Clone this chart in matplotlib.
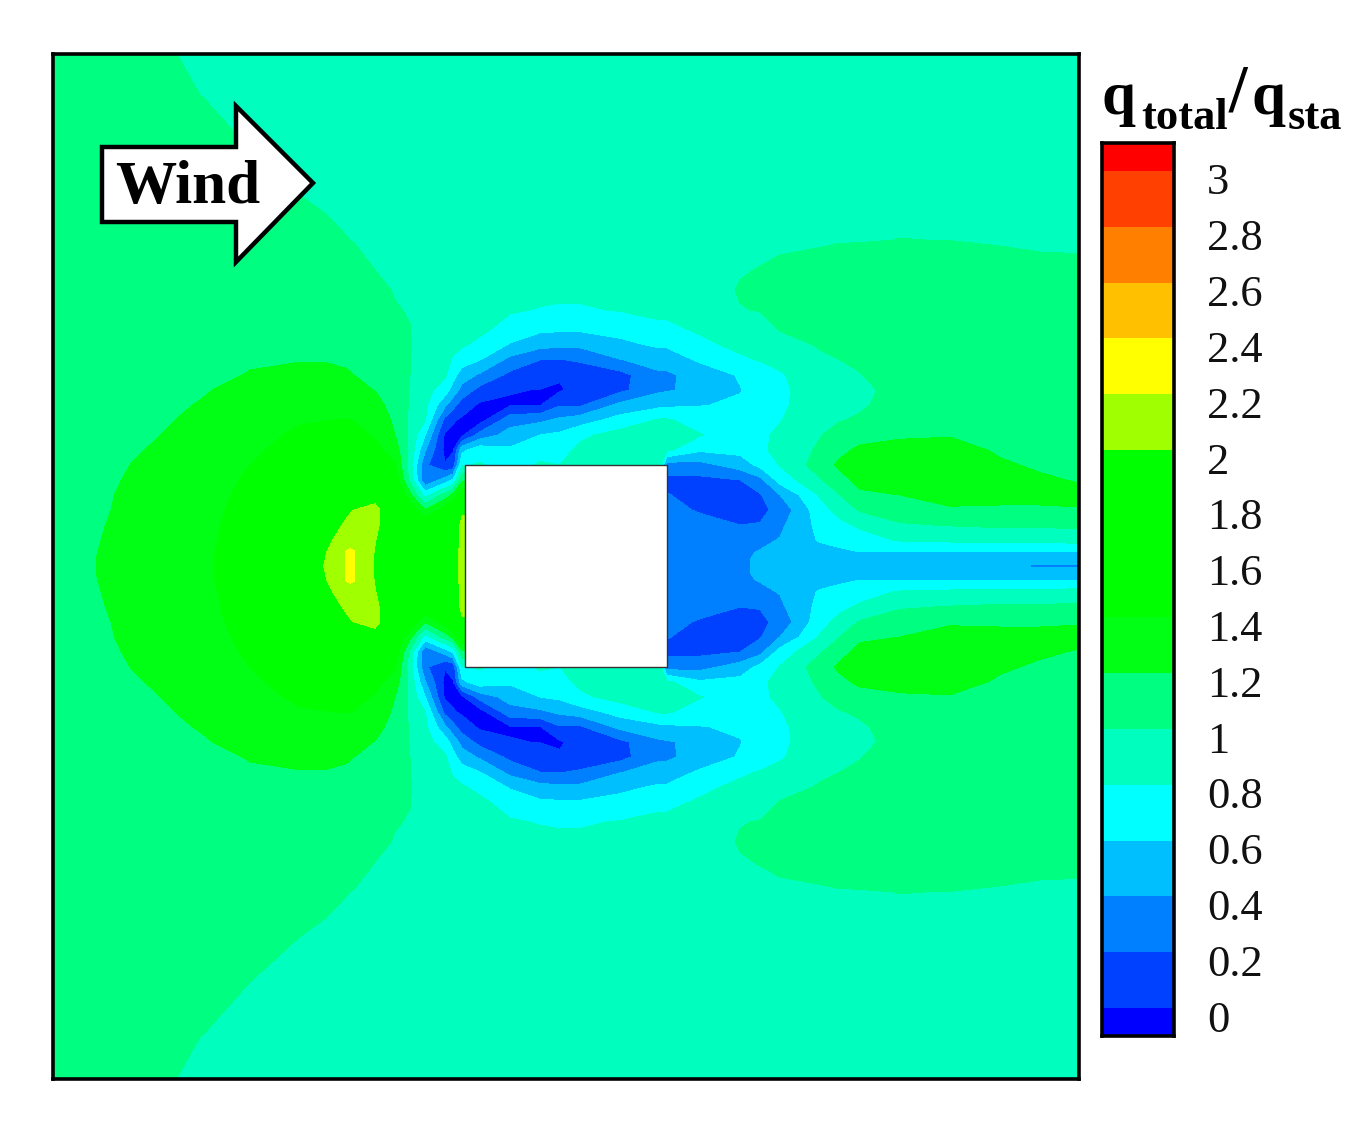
import numpy as np
import matplotlib
matplotlib.use('Agg')
import matplotlib.pyplot as plt
from matplotlib.patches import Polygon, Rectangle

# pressure ratio q_total/q_sta, upper half only (flow is symmetric)
# one list per column, rows follow row_y
row_y = [53, 100, 150, 200, 240, 270, 290, 310, 330, 345, 360, 375, 390, 405, 420, 435, 450, 465, 480, 495, 510, 525, 540, 552, 560, 566]
col_x = [53, 100, 150, 200, 250, 300, 325, 346, 350, 354, 375, 395, 410, 425, 445, 453, 462, 480, 510, 540, 560, 580, 620, 660, 667, 700, 740, 760, 780, 820, 840, 860, 900, 950, 1000, 1040, 1079]

q_x53 = [1.10, 1.11, 1.11, 1.12, 1.12, 1.12, 1.13, 1.13, 1.13, 1.14, 1.14, 1.14, 1.14, 1.14, 1.14, 1.15, 1.15, 1.15, 1.15, 1.15, 1.15, 1.15, 1.15, 1.15, 1.15, 1.15]
q_x100 = [1.08, 1.09, 1.09, 1.10, 1.11, 1.12, 1.12, 1.13, 1.13, 1.14, 1.14, 1.14, 1.15, 1.15, 1.16, 1.16, 1.16, 1.17, 1.17, 1.18, 1.18, 1.19, 1.198, 1.203, 1.204, 1.204]
q_x150 = [1.05, 1.06, 1.07, 1.08, 1.09, 1.10, 1.10, 1.11, 1.12, 1.13, 1.14, 1.15, 1.16, 1.17, 1.18, 1.19, 1.205, 1.22, 1.24, 1.25, 1.27, 1.28, 1.29, 1.30, 1.30, 1.30]
q_x200 = [.955, 1.005, 1.04, 1.07, 1.09, 1.10, 1.11, 1.12, 1.13, 1.14, 1.15, 1.17, 1.19, 1.205, 1.22, 1.24, 1.26, 1.27, 1.29, 1.30, 1.32, 1.33, 1.34, 1.35, 1.35, 1.35]
q_x250 = [.93, .96, 1.00, 1.05, 1.08, 1.10, 1.11, 1.13, 1.15, 1.17, 1.19, 1.205, 1.23, 1.26, 1.30, 1.34, 1.37, 1.40, 1.43, 1.46, 1.48, 1.50, 1.51, 1.52, 1.52, 1.52]
q_x300 = [.91, .93, .95, 1.005, 1.05, 1.08, 1.10, 1.12, 1.15, 1.17, 1.195, 1.23, 1.27, 1.31, 1.385, 1.43, 1.47, 1.52, 1.57, 1.62, 1.67, 1.72, 1.77, 1.80, 1.82, 1.83]
q_x325 = [.90, .92, .94, .985, 1.03, 1.07, 1.09, 1.12, 1.15, 1.17, 1.195, 1.23, 1.27, 1.33, 1.395, 1.45, 1.50, 1.56, 1.63, 1.72, 1.80, 1.87, 1.93, 1.98, 2.0, 2.01]
q_x346 = [.90, .91, .93, .964, 1.005, 1.053, 1.08, 1.11, 1.15, 1.17, 1.187, 1.21, 1.26, 1.33, 1.405, 1.47, 1.54, 1.62, 1.71, 1.83, 1.95, 2.03, 2.12, 2.205, 2.205, 2.205]
q_x350 = [.90, .91, .93, .96, 1.0, 1.05, 1.08, 1.11, 1.15, 1.17, 1.185, 1.205, 1.26, 1.33, 1.405, 1.47, 1.55, 1.63, 1.73, 1.85, 1.98, 2.06, 2.15, 2.22, 2.24, 2.25]
q_x354 = [.90, .91, .93, .96, .996, 1.04, 1.07, 1.10, 1.14, 1.16, 1.18, 1.20, 1.25, 1.31, 1.39, 1.46, 1.54, 1.62, 1.73, 1.86, 2.0, 2.06, 2.15, 2.205, 2.205, 2.205]
q_x375 = [.89, .90, .92, .95, .975, 1.0, 1.04, 1.08, 1.12, 1.14, 1.16, 1.18, 1.195, 1.25, 1.31, 1.38, 1.46, 1.55, 1.70, 1.93, 2.05, 2.04, 2.01, 1.99, 1.985, 1.98]
q_x395 = [.89, .90, .91, .93, .95, .97, .99, 1.01, 1.04, 1.06, 1.08, 1.10, 1.12, 1.14, 1.17, 1.20, 1.30, 1.42, 1.55, 1.68, 1.85, 1.85, 1.80, 1.80, 1.78, 1.78]
q_x410 = [.89, .89, .90, .92, .94, .96, .98, .99, 1.005, 1.01, 1.005, 1.0, .99, .98, .97, .96, .95, .88, .95, 1.25, 1.6, 1.7, 1.72, 1.72, 1.72, 1.72]
q_x425 = [.89, .89, .90, .91, .91, .91, .91, .91, .90, .90, .89, .88, .87, .85, .81, .61, .42, .24, .22, .72, 1.2, 1.6, 1.7, 1.7, 1.7, 1.7]
q_x445 = [.89, .89, .89, .90, .90, .90, .90, .90, .89, .88, .86, .83, .70, .44, .14, -.03, -.05, .01, .48, 1.08, 1.5, 1.75, 1.8, 1.82, 1.82, 1.82]
q_x453 = [.89, .89, .89, .89, .89, .89, .89, .89, .87, .85, .78, .67, .52, .27, .02, -.05, -.01, .06, .62, 1.25, 1.75, 1.9, 1.92, 1.93, 1.93, 1.93]
q_x462 = [.89, .89, .89, .89, .89, .89, .89, .88, .85, .82, .70, .50, .33, .10, -.03, -.04, .55, .78, 1.15, 1.6, 1.98, 2.03, 2.03, 2.04, 2.05, 2.05]
q_x480 = [.89, .89, .89, .89, .89, .89, .89, .86, .84, .75, .60, .37, .13, -.03, -.08, .28, .72, .82, 1.2, 1.6, 2.0, 2.03, 2.03, 2.04, 2.05, 2.05]
q_x510 = [.89, .89, .89, .89, .89, .89, .86, .82, .72, .58, .34, .15, .01, -.02, .32, .48, .63, .72, .75, .75, .75, .75, .75, .75, .75, .75]
q_x540 = [.89, .89, .89, .89, .89, .89, .85, .79, .63, .46, .20, .08, -.005, -.01, .36, .60, .74, .82, .85, .85, .85, .85, .85, .85, .85, .85]
q_x560 = [.89, .89, .89, .89, .89, .89, .84, .78, .62, .44, .19, .02, -.02, .18, .44, .64, .74, .80, .85, .85, .85, .85, .85, .85, .85, .85]
q_x580 = [.89, .89, .89, .89, .89, .89, .84, .78, .62, .44, .22, .09, .07, .17, .50, .76, .84, .86, .85, .85, .85, .85, .85, .85, .85, .85]
q_x620 = [.89, .89, .89, .89, .89, .89, .86, .81, .66, .55, .39, .13, .15, .45, .68, .87, .90, .90, .85, .85, .85, .85, .85, .85, .85, .85]
q_x660 = [.89, .89, .89, .89, .89, .89, .87, .84, .76, .63, .48, .37, .37, .55, .82, .90, .86, .85, .85, .85, .85, .85, .85, .85, .85, .85]
q_x667 = [.89, .89, .89, .89, .89, .89, .87, .84, .76, .63, .48, .37, .38, .56, .82, .90, .84, .30, .15, .21, .26, .30, .30, .30, .30, .30]
q_x700 = [.89, .89, .89, .89, .90, .92, .93, .88, .82, .76, .63, .47, .46, .59, .72, .81, .63, .33, .15, .13, .18, .27, .30, .30, .30, .30]
q_x740 = [.90, .90, .90, .91, .95, .99, 1.01, .995, .90, .84, .77, .62, .59, .63, .66, .68, .66, .49, .20, .13, .13, .20, .32, .37, .38, .38]
q_x760 = [.90, .905, .91, .925, .965, 1.005, 1.02, 1.005, .95, .90, .81, .70, .68, .70, .725, .76, .76, .65, .34, .18, .15, .21, .36, .41, .42, .42]
q_x780 = [.90, .91, .92, .94, .98, 1.02, 1.03, 1.02, 1.005, .95, .85, .78, .77, .77, .79, .84, .86, .81, .68, .40, .26, .36, .41, .44, .45, .45]
q_x820 = [.91, .92, .93, .96, .99, 1.03, 1.05, 1.05, 1.03, 1.01, .98, .92, .88, .90, .95, .99, 1.03, 1.10, .98, .82, .72, .66, .62, .52, .47, .46]
q_x840 = [.905, .92, .935, .965, .995, 1.04, 1.06, 1.06, 1.045, 1.025, 1.0, .955, .915, .935, .99, 1.08, 1.15, 1.24, 1.14, 1.0, .87, .75, .67, .56, .47, .445]
q_x860 = [.90, .92, .94, .97, .995, 1.05, 1.07, 1.07, 1.06, 1.04, 1.02, .995, .95, .97, 1.03, 1.12, 1.24, 1.28, 1.25, 1.17, 1.02, .83, .72, .60, .47, .43]
q_x900 = [.90, .92, .95, .98, 1.001, 1.06, 1.09, 1.10, 1.10, 1.09, 1.08, 1.07, 1.07, 1.09, 1.14, 1.18, 1.25, 1.29, 1.25, 1.20, 1.10, .98, .82, .60, .47, .43]
q_x950 = [.90, .92, .95, .98, .999, 1.05, 1.08, 1.10, 1.11, 1.11, 1.11, 1.11, 1.12, 1.13, 1.15, 1.19, 1.26, 1.29, 1.26, 1.23, 1.19, 1.01, .84, .60, .46, .42]
q_x1000 = [.90, .92, .95, .98, .99, 1.04, 1.07, 1.09, 1.10, 1.11, 1.11, 1.11, 1.12, 1.13, 1.14, 1.16, 1.18, 1.22, 1.24, 1.22, 1.19, 1.03, .86, .60, .45, .41]
q_x1040 = [.90, .92, .94, .97, .98, 1.03, 1.06, 1.08, 1.09, 1.10, 1.10, 1.10, 1.11, 1.12, 1.13, 1.14, 1.16, 1.18, 1.22, 1.22, 1.19, 1.03, .86, .60, .44, .385]
q_x1079 = [.90, .92, .94, .96, .975, 1.03, 1.06, 1.08, 1.09, 1.10, 1.10, 1.10, 1.10, 1.11, 1.12, 1.13, 1.14, 1.16, 1.19, 1.24, 1.19, 1.04, .87, .60, .44, .38]

levels = [-0.1, 0, 0.2, 0.4, 0.6, 0.8, 1.0, 1.2, 1.4, 1.6, 1.8, 2.0, 2.2, 2.4, 2.6, 2.8, 3.0, 3.1]
band_colors = ['#0000ff', '#0040ff', '#0080ff', '#00bfff', '#00ffff', '#00ffbf', '#00ff80', '#00ff14',
               '#00ff00', '#00ff00', '#00ff00', '#a0ff00', '#ffff00', '#ffc000', '#ff8000', '#ff4000', '#ff0000']
tick_labels = ['0', '0.2', '0.4', '0.6', '0.8', '1', '1.2', '1.4', '1.6', '1.8', '2', '2.2', '2.4', '2.6', '2.8', '3']
tick_values = [0, 0.2, 0.4, 0.6, 0.8, 1.0, 1.2, 1.4, 1.6, 1.8, 2.0, 2.2, 2.4, 2.6, 2.8, 3.0]

W, H = 1365, 1135
plt.rcParams['font.family'] = ['Liberation Serif', 'DejaVu Serif']
fig = plt.figure(figsize=(W / 100, H / 100), dpi=100)


def px_axes(x0, y0, x1, y1):
    return fig.add_axes([x0 / W, 1 - y1 / H, (x1 - x0) / W, (y1 - y0) / H])


# stack the columns, then mirror the upper half about the centreline
upper = np.array([q_x53, q_x100, q_x150, q_x200, q_x250, q_x300, q_x325, q_x346, q_x350, q_x354, q_x375, q_x395,
                  q_x410, q_x425, q_x445, q_x453, q_x462, q_x480, q_x510, q_x540, q_x560, q_x580, q_x620, q_x660,
                  q_x667, q_x700, q_x740, q_x760, q_x780, q_x820, q_x840, q_x860, q_x900, q_x950, q_x1000,
                  q_x1040, q_x1079]).T
z = np.vstack([upper, upper[-2::-1]])
yy = np.array(row_y, dtype=float)
yy = np.concatenate([yy, 2 * 566 - yy[-2::-1]])

ax = px_axes(53, 54, 1079, 1079)
ax.contourf(col_x, yy, z, levels=levels, colors=band_colors, extend='neither', antialiased=True)
ax.contourf(col_x, yy, z, levels=levels, colors=band_colors, extend='neither', antialiased=False)
ax.set_xlim(53, 1079)
ax.set_ylim(1079, 54)
ax.set_xticks([])
ax.set_yticks([])
for s in ax.spines.values():
    s.set_linewidth(2.6)

# building
ax.add_patch(Rectangle((465, 465), 202, 202, fc='white', ec='#333333', lw=1.0, zorder=5))

# wind arrow
arrow = [(102, 147), (236, 147), (236, 106), (313, 183), (236, 262), (236, 222), (102, 222)]
ax.add_patch(Polygon(arrow, closed=True, fc='white', ec='black', lw=3.2, joinstyle='miter', zorder=6))
ax.text(188, 188, 'Wind', fontsize=44, fontweight='bold', ha='center', va='center', zorder=7)

# colour bar
cax = px_axes(1102, 143, 1174, 1036)
for i, c in enumerate(band_colors):
    cax.bar(0.5, levels[i + 1] - levels[i], bottom=levels[i], width=1, color=c, lw=0)
cax.set_xlim(0, 1)
cax.set_ylim(-0.1, 3.1)
cax.set_xticks([])
cax.set_yticks([])
for s in cax.spines.values():
    s.set_linewidth(2.6)
for v, lab in zip(tick_values, tick_labels):
    cax.text(1.46, v - 0.045, lab, transform=cax.get_yaxis_transform(), fontsize=32, color='#111111',
             ha='left', va='center')

# title pieces
def title_piece(x, y, s, size):
    fig.text(x / W, 1 - y / H, s, fontsize=size, fontweight='bold', ha='left', va='baseline')


title_piece(1102, 114, 'q', 44)
title_piece(1141, 129, 'total', 32)
title_piece(1229, 110, '/', 48)
title_piece(1252, 114, 'q', 44)
title_piece(1288, 129, 'sta', 32)

fig.savefig('out.png', dpi=100)
